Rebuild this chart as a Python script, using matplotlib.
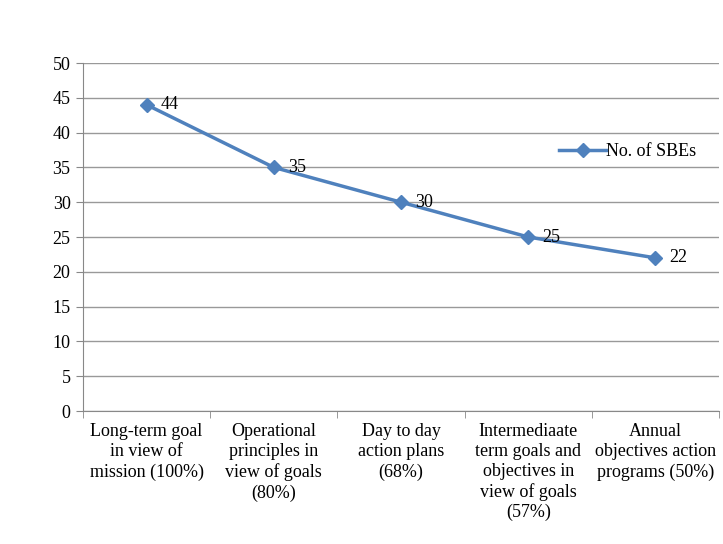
import matplotlib
matplotlib.use("Agg")
import matplotlib.pyplot as plt
import numpy as np

#data
categories = ["Long-term goal\nin view of\nmission (100%)",
              "Operational\nprinciples in\nview of goals\n(80%)",
              "Day to day\naction plans\n(68%)",
              "Intermediaate\nterm goals and\nobjectives in\nview of goals\n(57%)",
              "Annual\nobjectives action\nprograms (50%)"]
values = [44, 35, 30, 25, 22]
series_name = "No. of SBEs"

plt.rcParams['font.family'] = ['Liberation Serif', 'DejaVu Serif']
fs = 13

fig = plt.figure(figsize=(7.23, 5.44), dpi=100)
ax = fig.add_axes([83/723, 1-411/544, 636/723, 348/544])

x = np.arange(len(values))
ax.plot(x, values, color="#4F81BD", lw=2.5, marker="D", ms=7, label=series_name)
for xi, v in zip(x, values):
	ax.annotate(str(v), (xi, v), xytext=(10, 0), textcoords="offset points",
		va="center", ha="left", fontsize=fs)

ax.set_xlim(-0.5, len(values)-0.5)
ax.set_ylim(0, 50)
ax.set_yticks(range(0, 51, 5))
ax.set_xticks(x)
ax.set_xticklabels(categories, fontsize=fs, linespacing=1.22)
ax.set_xticks(np.arange(-0.5, len(values), 1), minor=True)
ax.tick_params(axis="x", which="major", length=0, pad=9)
ax.tick_params(axis="x", which="minor", length=5, color="#888888")
ax.tick_params(axis="y", length=5, color="#888888", labelsize=fs, pad=4)
ax.grid(axis="y", color="#999999", lw=1)
ax.set_axisbelow(True)
for s in ["top", "right"]:
	ax.spines[s].set_visible(False)
for s in ["left", "bottom"]:
	ax.spines[s].set_color("#888888")

ax.legend(loc="center right", bbox_to_anchor=(0.99, 0.745), frameon=False,
	fontsize=fs, handlelength=2.6, handletextpad=0.0)

plt.savefig("out.png", dpi=100)
